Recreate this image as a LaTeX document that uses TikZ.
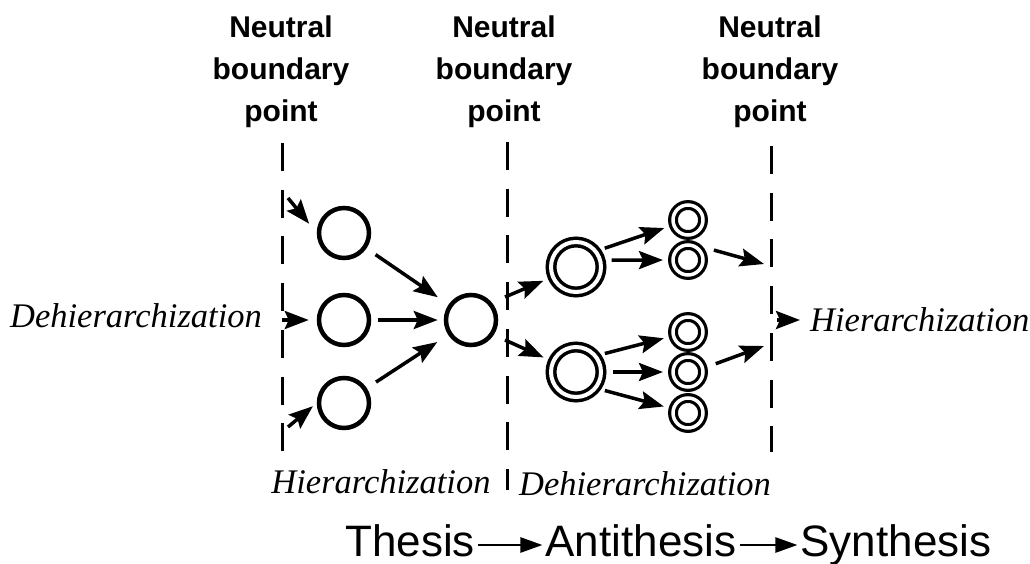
\documentclass[tikz,border=0pt]{standalone}
\usepackage{fontspec}
\setmainfont{Liberation Serif}
\setsansfont{Liberation Sans}
\usetikzlibrary{arrows.meta,positioning}

\tikzset{
	ring/.style={circle, draw, line width=4.5pt, minimum size=50pt, inner sep=0pt},
	bigring/.style={circle, draw, double, line width=3.5pt, double distance=4pt,
		minimum size=50pt, inner sep=0pt, outer sep=5.5pt},
	smallring/.style={circle, draw, double, line width=3.2pt, double distance=3.5pt,
		minimum size=30pt, inner sep=0pt, outer sep=5pt},
	arr/.style={line width=3.5pt, -{Stealth[length=24pt,width=18pt,inset=4pt]},
		shorten >=5pt, shorten <=6pt},
	bound/.style={line width=3pt, dash pattern=on 28pt off 18.7pt},
	title/.style={font=\sffamily\bfseries\fontsize{30}{42}\selectfont, align=center},
	phase/.style={font=\itshape\fontsize{34.5}{40}\selectfont, inner sep=2pt},
	stage/.style={font=\sffamily\fontsize{44}{50}\selectfont,
		text height=32pt, text depth=9pt, inner sep=3pt},
	flow/.style={line width=2.6pt, -{Triangle[length=22pt,width=15pt]}}
}

\begin{document}
\begin{tikzpicture}[x=1pt, y=-1pt]
	\useasboundingbox (0,0) rectangle (1030,564);
	
	% Neutral boundary points
	\node[title] (nb1) at (281,72) {Neutral\\boundary\\point};
	\node[title] (nb2) at (504,72) {Neutral\\boundary\\point};
	\node[title] (nb3) at (770,72) {Neutral\\boundary\\point};
	
	\coordinate (t1) at (282,143);
	\coordinate (u1) at (282,451);
	\coordinate (t2) at (507,142);
	\coordinate (u2) at (507,490);
	\coordinate (t3) at (771,146);
	\coordinate (u3) at (771,452);
	\draw[bound] (t1) -- (u1);
	\draw[bound] (t2) -- (u2);
	\draw[bound] (t3) -- (u3);
	
	% Thesis part
	\node[ring] (l1) at (344,233) {};
	\node[ring] (l2) at (344,320) {};
	\node[ring] (l3) at (344,403) {};
	\node[ring] (m) at (471,320) {};
	
	% Antithesis part
	\node[bigring] (b1) at (576,267) {};
	\node[bigring] (b2) at (576,372) {};
	\node[smallring] (s1) at (688,220) {};
	\node[smallring] (s2) at (688,260) {};
	\node[smallring] (s3) at (688,332) {};
	\node[smallring] (s4) at (688,372) {};
	\node[smallring] (s5) at (688,413) {};
	
	% Labels
	\node[phase] (dl) at (136,316) {Dehierarchization};
	\node[phase, anchor=west] (hr) at (808,320) {Hierarchization};
	\node[phase] (bh) at (381,482) {Hierarchization};
	\node[phase] (bd) at (645,484) {Dehierarchization};
	
	% Incoming arrows
	\coordinate (in1) at (288,198);
	\coordinate (in2) at (282,320);
	\coordinate (in3) at (288,427);
	\draw[arr, shorten <=0pt, shorten >=12pt] (in1) -- (l1.west);
	\draw[arr, shorten <=0pt, shorten >=8pt] (in2) -- (l2);
	\draw[arr, shorten <=0pt, shorten >=5pt] (in3) -- (l3.west);
	
	\draw[arr, shorten <=11pt, shorten >=13pt] (l1) -- (m);
	\draw[arr, shorten <=7pt, shorten >=6pt] (l2) -- (m);
	\draw[arr, shorten <=11pt, shorten >=13pt] (l3) -- (m);
	
	\coordinate (o1) at (505,297);
	\coordinate (o2) at (505,340);
	\draw[arr, shorten <=0pt] (o1) -- (b1);
	\draw[arr, shorten <=0pt] (o2) -- (b2);
	
	\draw[arr, shorten <=4pt] (b1.35) -- (s1);
	\draw[arr] (b1.13) -- (s2);
	\draw[arr, shorten <=4pt] (b2.35) -- (s3);
	\draw[arr] (b2) -- (s4);
	\draw[arr, shorten <=4pt] (b2.-35) -- (s5);
	
	% Outgoing arrows
	\coordinate (e1) at (764,264);
	\coordinate (e2) at (764,346);
	\coordinate (rin) at (777,320);
	\draw[arr, shorten <=11pt, shorten >=0pt] (s2.40) -- (e1);
	\draw[arr, shorten <=9pt, shorten >=0pt] (s4.15) -- (e2);
	\draw[arr, shorten <=0pt, shorten >=8pt] (rin) -- (hr.west);
	
	% Thesis -> Antithesis -> Synthesis
	\node[stage] (th) at (410,545) {Thesis};
	\node[stage] (an) at (641,545) {Antithesis};
	\node[stage] (sy) at (896,545) {Synthesis};
	\draw[flow] (th) -- (an);
	\draw[flow] (an) -- (sy);
	
\end{tikzpicture}
\end{document}
